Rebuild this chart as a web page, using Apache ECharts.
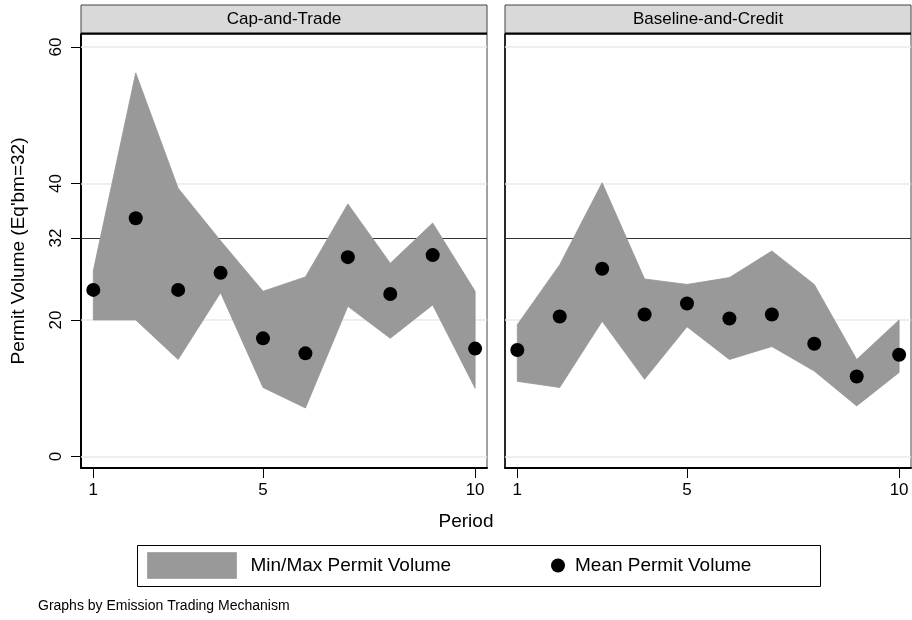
<!DOCTYPE html>
<html><head><meta charset="utf-8">
<script src="https://cdn.jsdelivr.net/npm/echarts@6/dist/echarts.min.js"></script>
<style>html,body{margin:0;padding:0;background:#fff}#c{width:912px;height:620px}</style>
</head><body><div id="c"></div>
<script>
const periods = [1,2,3,4,5,6,7,8,9,10];
const panels = ['Cap-and-Trade','Baseline-and-Credit'];
const capMin  = [20.0,20.0,14.2,24.0,10.1,7.1,22.0,17.3,22.2,10.0];
const capMax  = [27.2,56.2,39.3,31.6,24.2,26.3,37.0,28.3,34.2,24.2];
const capMean = [24.4,34.9,24.4,26.9,17.3,15.1,29.2,23.8,29.5,15.8];
const bacMin  = [11.0,10.1,19.8,11.3,19.0,14.2,16.1,12.5,7.4,12.3];
const bacMax  = [19.3,28.1,40.1,26.0,25.2,26.2,30.1,25.2,14.2,20.0];
const bacMean = [15.6,20.5,27.5,20.8,22.4,20.2,20.8,16.5,11.7,14.9];
const yTicks = [0,20,32,40,60];
const xTicks = [1,5,10];
const gridLines = [0,20,40,60];
const refLine = 32;

const FONT = '"Liberation Sans", Arial, sans-serif';
const chart = echarts.init(document.getElementById('c'));

const grids = [
  {left:81, top:34, width:406, height:434, show:true, borderColor:'#444', borderWidth:1, backgroundColor:'#fff'},
  {left:505, top:34, width:406, height:434, show:true, borderColor:'#444', borderWidth:1, backgroundColor:'#fff'}
];
const xAxes = grids.map((g,i)=>({
  type:'value', gridIndex:i, min:0.71, max:10.28,
  axisLine:{show:true, onZero:false, lineStyle:{color:'#000', width:2}},
  axisTick:{show:true, length:10, lineStyle:{color:'#000'}, customValues:xTicks},
  axisLabel:{show:true, customValues:xTicks, fontFamily:FONT, fontSize:17, color:'#000', margin:14},
  splitLine:{show:false}
}));
const yAxes = grids.map((g,i)=>({
  type:'value', gridIndex:i, min:-1.7, max:61.9,
  name: i===0 ? "Permit Volume (Eq'bm=32)" : '',
  nameLocation:'middle', nameGap:53,
  nameTextStyle:{fontFamily:FONT, fontSize:19, color:'#000'},
  axisLine:{show:true, onZero:false, lineStyle:{color:'#000', width: i===0 ? 2 : 1.5}},
  axisTick:{show:i===0, length:10, lineStyle:{color:'#000'}, customValues:yTicks},
  axisLabel:{show:i===0, customValues:yTicks, rotate:90, fontFamily:FONT, fontSize:17, color:'#000', margin:16},
  splitLine:{show:false}
}));

const data = [[capMin,capMax,capMean],[bacMin,bacMax,bacMean]];
const series = [];
data.forEach((d,i)=>{
  const [mn,mx,mean] = d;
  series.push({
    type:'custom', name:'Min/Max Permit Volume', xAxisIndex:i, yAxisIndex:i,
    data: periods.map((p,k)=>[p, mn[k], mx[k]]),
    encode:{x:0, y:[1,2]},
    itemStyle:{color:'#999999'},
    silent:true, z:3, clip:true,
    renderItem:function(params, api){
      if (params.dataIndex !== 0) return null;
      const upper = periods.map((p,k)=>api.coord([p, mx[k]]));
      const lower = periods.map((p,k)=>api.coord([p, mn[k]])).reverse();
      return {type:'polygon', shape:{points: upper.concat(lower)},
        style:{fill:'#999999', stroke:'#959595', lineWidth:0.8}};
    },
    markLine:{silent:true, symbol:'none', z:1, label:{show:false},
      data: gridLines.map(v=>({yAxis:v, lineStyle:{color:'#e8e8e8', width:1.5, type:'solid'}}))
        .concat([{yAxis:refLine, lineStyle:{color:'#333', width:1, type:'solid'}}])}
  });
  series.push({
    type:'scatter', name:'Mean Permit Volume', xAxisIndex:i, yAxisIndex:i,
    data: periods.map((p,k)=>[p, mean[k]]), symbol:'circle', symbolSize:14,
    itemStyle:{color:'#000', opacity:1}, z:4
  });
});

const graphic = [];
panels.forEach((t,i)=>{
  const gx = grids[i].left;
  graphic.push({type:'rect', shape:{x:gx, y:5, width:406, height:29}, style:{fill:'#d9d9d9', stroke:'#444', lineWidth:1}, z:10});
  graphic.push({type:'line', shape:{x1:gx, y1:33.5, x2:gx+406, y2:33.5}, style:{stroke:'#000', lineWidth:2}, z:11});
  graphic.push({type:'text', x:gx+203, y:19.5, style:{text:t, font:'17px '+FONT, fill:'#000', align:'center', verticalAlign:'middle'}, z:12});
});
graphic.push({type:'text', x:466, y:522, style:{text:'Period', font:'19px '+FONT, fill:'#000', align:'center', verticalAlign:'middle'}});
graphic.push({type:'rect', shape:{x:137.5, y:545.5, width:683, height:41}, style:{fill:'none', stroke:'#000', lineWidth:1}});
graphic.push({type:'text', x:38, y:606, style:{text:'Graphs by Emission Trading Mechanism', font:'14px '+FONT, fill:'#000', align:'left', verticalAlign:'middle'}});

chart.setOption({
  animation:false,
  backgroundColor:'#fff',
  grid:grids, xAxis:xAxes, yAxis:yAxes, series:series, graphic:graphic,
  legend:[
    {data:[{name:'Min/Max Permit Volume', icon:'rect', itemStyle:{color:'#999999', borderColor:'#aaa', borderWidth:1}}],
     left:147, top:552, itemWidth:89, itemHeight:26, padding:0, itemGap:0, selectedMode:false,
     textStyle:{fontFamily:FONT, fontSize:19, color:'#000', padding:[0,0,0,9]}},
    {data:[{name:'Mean Permit Volume', icon:'circle', itemStyle:{color:'#000', opacity:1}}],
     left:551, top:556, itemWidth:14, itemHeight:14, padding:0, itemGap:0, selectedMode:false,
     textStyle:{fontFamily:FONT, fontSize:19, color:'#000', padding:[0,0,0,5]}}
  ]
});
</script></body></html>
